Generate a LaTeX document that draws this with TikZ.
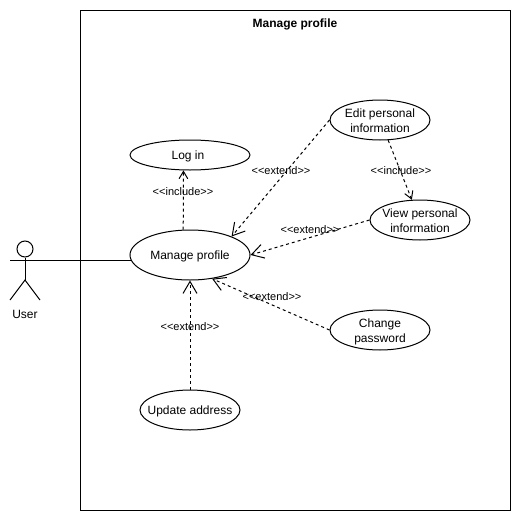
\documentclass[tikz,border=0pt]{standalone}
\usepackage{fontspec}
\setmainfont{Liberation Sans}
\usetikzlibrary{arrows.meta, shapes.geometric}

\tikzset{
    usecase/.style={ellipse, draw, line width=0.75pt, inner sep=0pt},
    uctext/.style={inner sep=0pt, align=center, font=\fontsize{9}{11.25}\selectfont},
    dep/.style={draw, line width=0.75pt, dash pattern=on 2.25pt off 2.25pt},
    extarrow/.style={dep, -{Straight Barb[length=9pt, width=10.5pt, line width=0.75pt]}},
    incarrow/.style={dep, -{Straight Barb[length=5.5pt, width=6.5pt, line width=0.75pt]}},
    deplabel/.style={inner sep=0pt, font=\fontsize{8.25}{10}\selectfont},
}

\begin{document}
\begin{tikzpicture}[x=0.75pt, y=-0.75pt, line width=0.75pt]

        \useasboundingbox (0,0) rectangle (521,521);

        % Define nodes (boxes)

        \node (system) at ( 295, 260 ) [rectangle, draw, line width=0.75pt, minimum width=322.5pt, minimum height=375pt, inner sep=0pt] {};

        \node (title) at ( 295, 24 ) [inner sep=0pt, font=\bfseries\fontsize{9}{11}\selectfont] {Manage profile};

        \node (login) at ( 190, 155 ) [usecase, minimum width=90pt, minimum height=22.5pt] {};

        \node (manage) at ( 190, 255 ) [usecase, minimum width=90pt, minimum height=37.5pt] {};

        \node (edit) at ( 380, 120 ) [usecase, minimum width=75pt, minimum height=30pt] {};

        \node (view) at ( 420, 220 ) [usecase, minimum width=75pt, minimum height=30pt] {};

        \node (change) at ( 380, 330 ) [usecase, minimum width=75pt, minimum height=30pt] {};

        \node (update) at ( 190, 410 ) [usecase, minimum width=75pt, minimum height=30pt] {};

        % Texts of the use cases

        \node (logintext) at ( 188, 156 ) [uctext] {Log in};

        \node (managetext) at ( 190, 256 ) [uctext] {Manage profile};

        \node (edittext) at ( 380, 120.5 ) [uctext] {Edit personal\\information};

        \node (viewtext) at ( 420, 220.5 ) [uctext] {View personal\\information};

        \node (changetext) at ( 380, 331.5 ) [uctext] {Change\\password};

        \node (updatetext) at ( 190, 411 ) [uctext] {Update address};

        % Actor

        \node (head) at ( 25, 249 ) [circle, draw, line width=0.75pt, minimum size=12pt, inner sep=0pt] {};

        \node (user) at ( 25, 314 ) [inner sep=0pt, font=\fontsize{9}{11}\selectfont] {User};

        \coordinate (hip) at ( 25, 280 );
        \coordinate (arml) at ( 10, 260 );
        \coordinate (armr) at ( 40, 260 );
        \coordinate (footl) at ( 10, 300 );
        \coordinate (footr) at ( 40, 300 );
        \coordinate (contact) at ( 131, 260 );

        \draw (head) -- (hip);
        \draw (arml) -- (armr);
        \draw (footl) -- (hip) -- (footr);

        % Draw arrows between nodes

        \draw (armr) -- (contact);

        \draw[incarrow] (manage.105) -- (login.247);

        \draw[extarrow] (edit.west) -- (manage.24);

        \draw[incarrow] (edit.292) -- (view.112);

        \draw[extarrow] (view.west) -- (manage.east);

        \draw[extarrow] (change.west) -- (manage.-47);

        \draw[extarrow] (update.north) -- (manage.south);

        % Labels on arrows

        \node (lbla) at ( 183, 192 ) [deplabel] {<{}<include>{}>};

        \node (lblb) at ( 281, 171 ) [deplabel] {<{}<extend>{}>};

        \node (lblc) at ( 401, 171 ) [deplabel] {<{}<include>{}>};

        \node (lbld) at ( 310, 230 ) [deplabel] {<{}<extend>{}>};

        \node (lble) at ( 272, 297 ) [deplabel] {<{}<extend>{}>};

        \node (lblf) at ( 190, 327 ) [deplabel] {<{}<extend>{}>};

    \end{tikzpicture}
\end{document}
